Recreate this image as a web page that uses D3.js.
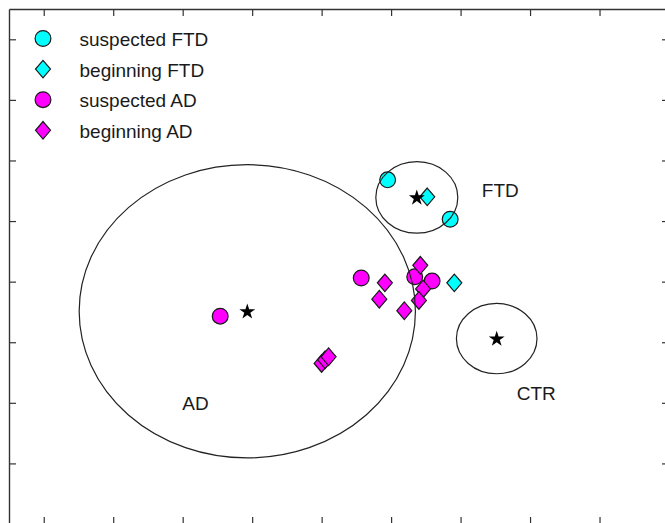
<!DOCTYPE html>
<html>
<head>
<meta charset="utf-8">
<script src="https://cdn.jsdelivr.net/npm/d3@7"></script>
<style>
  html, body { margin: 0; padding: 0; background: #fff; }
  svg { display: block; }
  text { font-family: Arial, "Liberation Sans", sans-serif; fill: #1a1a1a; }
</style>
</head>
<body>
<svg id="chart" width="665" height="523"></svg>
<script>
// Discriminant scores of the patient groups (canonical root 1 vs root 2)
const seriesNames = ["suspected FTD", "beginning FTD", "suspected AD", "beginning AD"];

const suspectedFTD_x = [0.95, 1.85];
const suspectedFTD_y = [0.68, 0.03];

const beginningFTD_x = [1.52, 1.91];
const beginningFTD_y = [0.40, -1.02];

const suspectedAD_x = [0.57, 1.34, 1.59, -1.46];
const suspectedAD_y = [-0.94, -0.92, -0.99, -1.57];

const beginningAD_x = [1.42, 0.91, 0.83, 1.19, 1.46, 1.40, 0.00, 0.05, 0.10];
const beginningAD_y = [-0.73, -1.02, -1.29, -1.48, -1.12, -1.31, -2.35, -2.29, -2.24];

// Group centroids with the radius of their reference region
const centroidNames  = ["AD", "FTD", "CTR"];
const centroidX      = [-1.07, 1.37, 2.52];
const centroidY      = [-1.49, 0.39, -1.94];
const centroidRadius = [2.42, 0.59, 0.58];

// Axis ticks (unlabelled)
const xTicks = [-4, -3, -2, -1, 0, 1, 2, 3, 4];
const yTicks = [-4, -3, -2, -1, 0, 1, 2, 3];

// ---- layout ----
const svg = d3.select("#chart");
const plotL = 9, plotR = 669, plotT = 9, plotB = 524;
const x = d3.scaleLinear().domain([-4.5, 5.0]).range([plotL, plotR]);
const y = d3.scaleLinear().domain([-5.0, 3.5]).range([plotB, plotT]);

const axisColor = "#333";
const tick = 7;

function styleAxis(g) {
  g.selectAll("path.domain").attr("stroke", axisColor).attr("stroke-width", 1.4);
  g.selectAll(".tick line").attr("stroke", axisColor).attr("stroke-width", 1.2);
  g.selectAll(".tick text").remove();
}

svg.append("g").attr("transform", `translate(${plotL},0)`)
  .call(d3.axisLeft(y).tickValues(yTicks).tickSizeInner(-tick).tickSizeOuter(0).tickFormat(""))
  .call(styleAxis);
svg.append("g").attr("transform", `translate(${plotR},0)`)
  .call(d3.axisRight(y).tickValues(yTicks).tickSizeInner(-tick).tickSizeOuter(0).tickFormat(""))
  .call(styleAxis);
svg.append("g").attr("transform", `translate(0,${plotT})`)
  .call(d3.axisTop(x).tickValues(xTicks).tickSizeInner(-tick).tickSizeOuter(0).tickFormat(""))
  .call(styleAxis);
svg.append("g").attr("transform", `translate(0,${plotB})`)
  .call(d3.axisBottom(x).tickValues(xTicks).tickSizeInner(-tick).tickSizeOuter(0).tickFormat(""))
  .call(styleAxis);

// ---- markers ----
const colors = { FTD: "#00ffff", AD: "#ff00ff" };
const markerStroke = "#1a1a1a";
const markerStrokeW = 1.2;
const circleR = 7.9;
const diamondHalfW = 7.5, diamondHalfH = 8.8;

function diamondPath(cx, cy) {
  return `M${cx},${cy - diamondHalfH}L${cx + diamondHalfW},${cy}L${cx},${cy + diamondHalfH}L${cx - diamondHalfW},${cy}Z`;
}

function zip(xs, ys) { return xs.map((v, i) => ({ x: v, y: ys[i] })); }

const series = [
  { name: seriesNames[0], shape: "circle",  color: colors.FTD, pts: zip(suspectedFTD_x, suspectedFTD_y) },
  { name: seriesNames[1], shape: "diamond", color: colors.FTD, pts: zip(beginningFTD_x, beginningFTD_y) },
  { name: seriesNames[2], shape: "circle",  color: colors.AD,  pts: zip(suspectedAD_x, suspectedAD_y) },
  { name: seriesNames[3], shape: "diamond", color: colors.AD,  pts: zip(beginningAD_x, beginningAD_y) }
];

const marks = svg.append("g");
series.forEach(s => {
  s.pts.forEach(p => {
    if (s.shape === "circle") {
      marks.append("circle")
        .attr("cx", x(p.x)).attr("cy", y(p.y)).attr("r", circleR)
        .attr("fill", s.color).attr("stroke", markerStroke).attr("stroke-width", markerStrokeW);
    } else {
      marks.append("path")
        .attr("d", diamondPath(x(p.x), y(p.y)))
        .attr("fill", s.color).attr("stroke", markerStroke).attr("stroke-width", markerStrokeW);
    }
  });
});

// ---- centroid regions, stars and group labels ----
const labelOffset = { AD: [-65, 99], FTD: [65, 0], CTR: [20, 61] };
const regions = svg.append("g");
centroidNames.forEach((name, i) => {
  const cx = x(centroidX[i]), cy = y(centroidY[i]);
  const rx = x(centroidX[i] + centroidRadius[i]) - cx;
  const ry = cy - y(centroidY[i] + centroidRadius[i]);
  regions.append("ellipse")
    .attr("cx", cx).attr("cy", cy).attr("rx", rx).attr("ry", ry)
    .attr("fill", "none").attr("stroke", "#222").attr("stroke-width", 1.2);
  regions.append("path")
    .attr("d", d3.symbol().type(d3.symbolStar).size(78)())
    .attr("transform", `translate(${cx},${cy + 0.5})`)
    .attr("fill", "#000");
  const off = labelOffset[name];
  regions.append("text")
    .attr("x", cx + off[0]).attr("y", cy + off[1])
    .attr("font-size", 19)
    .text(name);
});

// ---- legend ----
const legend = svg.append("g");
series.forEach((s, i) => {
  const base = 46 + i * 30.6;
  const my = base - 7.5;
  if (s.shape === "circle") {
    legend.append("circle").attr("cx", 43).attr("cy", my).attr("r", circleR)
      .attr("fill", s.color).attr("stroke", markerStroke).attr("stroke-width", markerStrokeW);
  } else {
    legend.append("path").attr("d", diamondPath(43, my))
      .attr("fill", s.color).attr("stroke", markerStroke).attr("stroke-width", markerStrokeW);
  }
  legend.append("text").attr("x", 79.5).attr("y", base).attr("font-size", 19).text(s.name);
});
</script>
</body>
</html>
